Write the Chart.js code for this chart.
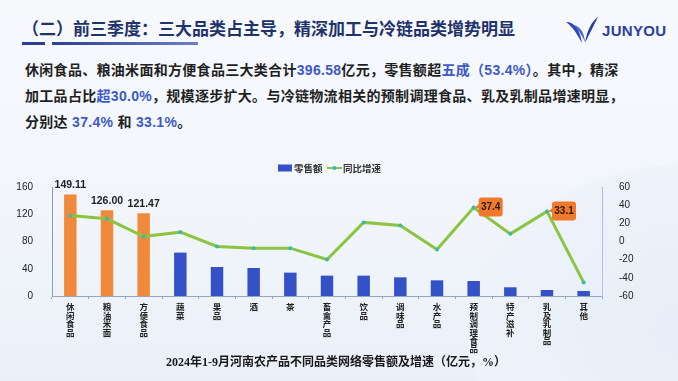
<!DOCTYPE html>
<html lang="zh">
<head>
  <meta charset="UTF-8">
  <title>河南农产品网络零售额及增速</title>
  <script src="https://cdn.jsdelivr.net/npm/chart.js@4/dist/chart.umd.min.js"></script>
  <style>
    html, body {
      margin: 0;
      padding: 0;
    }
    body {
      width: 678px;
      height: 381px;
      position: relative;
      overflow: hidden;
      font-family: "Liberation Sans", "Noto Sans CJK SC", sans-serif;
      background: radial-gradient(ellipse 420px 300px at 700px 330px, #e6edf8 0%, #eef3fa 55%, rgba(0,0,0,0) 56%),
                  linear-gradient(180deg, #f7f9fd 0%, #f1f5fb 60%, #eaf0f8 100%);
    }
    #title {
      position: absolute;
      left: 22px;
      top: 17px;
      font-size: 17px;
      line-height: 22px;
      font-weight: bold;
      color: #22326b;
      font-family: "Noto Sans CJK SC", sans-serif;
    }
    .bar1 { position: absolute; left: 22px; top: 42px; width: 23px; height: 3px; background: #2c3f93; }
    .bar2 { position: absolute; left: 52px; top: 42px; width: 146px; height: 3px;
            background: linear-gradient(90deg, #2c3f93, #6e80c9); }
    #logo { position: absolute; left: 565px; top: 16px; width: 100px; height: 32px; }
    #logo span {
      position: absolute; left: 37px; top: 6px;
      font: bold 15px "Liberation Sans", sans-serif; color: #2b3f9e; letter-spacing: 0.3px;
    }
    #para {
      position: absolute;
      left: 25px;
      top: 57px;
      width: 640px;
      font-size: 14px;
      line-height: 26px;
      font-weight: bold;
      color: #1f1f1f;
      letter-spacing: 0.3px;
    }
    #para b { color: #3d5ac4; font-weight: 600; }
    #chartBox { position: absolute; left: 0; top: 155px; width: 678px; height: 225px; }
    #caption {
      position: absolute;
      left: 0; width: 672px;
      top: 352px;
      text-align: center;
      font: bold 12px "Liberation Serif", "Noto Sans CJK SC", serif;
      color: #1a1a1a;
    }
  </style>
</head>
<body>
  <div id="title">（二）前三季度：三大品类占主导，精深加工与冷链品类增势明显</div>
  <div class="bar1"></div>
  <div class="bar2"></div>
  <div id="logo">
    <svg width="36" height="30" viewBox="0 0 36 30">
      <path d="M1 6 C10 6 15 14 17 27 C12 18 8 11 1 6 Z" fill="#2f47b0"/>
      <path d="M8 9 C15 10 19 16 20 26 C17 19 13 13 8 9 Z" fill="#4a66d0"/>
      <path d="M33 1 C26 6 22 15 20 27 C25 17 29 9 33 1 Z" fill="#2a3ea0"/>
    </svg>
    <span>JUNYOU</span>
  </div>
  <div id="para">
    休闲食品、粮油米面和方便食品三大类合计<b>396.58</b>亿元，零售额超<b>五成（53.4%）</b>。其中，精深<br>
    加工品占比<b>超30.0%</b>，规模逐步扩大。与冷链物流相关的预制调理食品、乳及乳制品增速明显，<br>
    分别达 <b>37.4%</b> 和 <b>33.1%</b>。
  </div>
  <div id="chartBox"><canvas id="myChart" width="678" height="225"></canvas></div>
  <div id="caption">2024年1-9月河南农产品不同品类网络零售额及增速（亿元，%）</div>

  <script>
    // data
    const categories = ['休闲食品', '粮油米面', '方便食品', '蔬菜', '果品', '酒', '茶', '畜禽产品',
                        '饮品', '调味品', '水产品', '预制调理食品', '特产滋补', '乳及乳制品', '其他'];
    const sales = [149.11, 126.00, 121.47, 63.7, 42.6, 41.1, 34.3, 29.9, 29.9, 27.4, 23.0, 22.0, 12.8, 8.8, 7.3];
    const growth = [28.6, 25.0, 5.5, 10.3, -5.5, -7.3, -7.3, -19.8, 21.0, 17.6, -8.8, 37.4, 8.4, 33.1, -45.0];
    const salesTicks = [0, 40, 80, 120, 160];
    const growthTicks = [-60, -40, -20, 0, 20, 40, 60];
    const topCategories = ['休闲食品', '粮油米面', '方便食品'];
    const calloutCategories = ['预制调理食品', '乳及乳制品'];

    const ORANGE = '#f08a3a';
    const BLUE = '#3551c8';
    const GREEN = '#8cc43f';

    // vertical labels: one character per line
    const labels = categories.map(c => c.split(''));

    function roundRect(ctx, x, y, w, h, r) {
      ctx.beginPath();
      ctx.moveTo(x + r, y);
      ctx.lineTo(x + w - r, y);
      ctx.quadraticCurveTo(x + w, y, x + w, y + r);
      ctx.lineTo(x + w, y + h - r);
      ctx.quadraticCurveTo(x + w, y + h, x + w - r, y + h);
      ctx.lineTo(x + r, y + h);
      ctx.quadraticCurveTo(x, y + h, x, y + h - r);
      ctx.lineTo(x, y + r);
      ctx.quadraticCurveTo(x, y, x + r, y);
      ctx.closePath();
    }

    const labelPlugin = {
      id: 'labels',
      afterDatasetsDraw(chart) {
        const ctx = chart.ctx;
        ctx.save();
        // values above the three largest bars
        const barMeta = chart.getDatasetMeta(1);
        ctx.font = 'bold 10.5px "Liberation Sans", sans-serif';
        ctx.fillStyle = '#222';
        ctx.textAlign = 'center';
        ctx.textBaseline = 'middle';
        categories.forEach((c, i) => {
          if (topCategories.includes(c)) {
            const el = barMeta.data[i];
            ctx.fillText(sales[i].toFixed(2), el.x, el.y - 9);
          }
        });
        // orange callouts on the growth line
        const lineMeta = chart.getDatasetMeta(0);
        categories.forEach((c, i) => {
          if (!calloutCategories.includes(c)) return;
          const p = lineMeta.data[i];
          const bx = p.x + 5, bw = 24, bh = 19, by = p.y - 10;
          ctx.fillStyle = '#f07a2a';
          roundRect(ctx, bx, by, bw, bh, 3);
          ctx.fill();
          ctx.beginPath();
          ctx.moveTo(bx + 1, by + 6);
          ctx.lineTo(p.x + 1, p.y);
          ctx.lineTo(bx + 1, by + 11);
          ctx.fill();
          ctx.fillStyle = '#2a1a10';
          ctx.font = 'bold 10px "Liberation Sans", sans-serif';
          ctx.fillText(growth[i].toFixed(1), bx + bw / 2, by + bh / 2 + 0.5);
        });
        ctx.restore();
      },
      afterDraw(chart) {
        // legend
        const ctx = chart.ctx;
        const y = 13;
        ctx.save();
        ctx.font = 'bold 9.5px "Noto Sans CJK SC", sans-serif';
        ctx.textBaseline = 'middle';
        ctx.textAlign = 'left';
        ctx.fillStyle = BLUE;
        ctx.fillRect(278, y - 3.5, 14, 7);
        ctx.fillStyle = '#333';
        ctx.fillText('零售额', 294, y);
        ctx.strokeStyle = GREEN;
        ctx.lineWidth = 2;
        ctx.beginPath();
        ctx.moveTo(327, y);
        ctx.lineTo(342, y);
        ctx.stroke();
        ctx.fillStyle = '#3cb8ae';
        ctx.beginPath();
        ctx.arc(334.5, y, 2, 0, Math.PI * 2);
        ctx.fill();
        ctx.fillStyle = '#333';
        ctx.fillText('同比增速', 343, y);
        ctx.restore();
      }
    };

    const ctx = document.getElementById('myChart').getContext('2d');
    new Chart(ctx, {
      data: {
        labels: labels,
        datasets: [
          {
            type: 'line',
            label: '同比增速',
            data: growth,
            yAxisID: 'y1',
            borderColor: GREEN,
            borderWidth: 3,
            pointRadius: 2,
            pointBorderWidth: 0,
            pointBackgroundColor: '#3cb8ae',
            pointBorderColor: '#3cb8ae',
            tension: 0,
            order: 0
          },
          {
            type: 'bar',
            label: '零售额',
            data: sales,
            yAxisID: 'y',
            backgroundColor: categories.map(c => topCategories.includes(c) ? ORANGE : BLUE),
            barPercentage: 0.34,
            categoryPercentage: 1,
            order: 1
          }
        ]
      },
      options: {
        responsive: false,
        animation: false,
        devicePixelRatio: 1,
        layout: { padding: { top: 32, left: 0, right: 0, bottom: 0 } },
        plugins: {
          legend: { display: false },
          tooltip: { enabled: false }
        },
        scales: {
          x: {
            grid: { display: true, drawOnChartArea: false, tickLength: 3, color: '#9aa5b8', offset: true },
            border: { display: true, color: '#9aa5b8' },
            ticks: {
              autoSkip: false,
              maxRotation: 0,
              minRotation: 0,
              padding: 4,
              color: '#222',
              font: { size: 8.5, weight: 'bold', family: '"Noto Sans CJK SC", sans-serif', lineHeight: '8.4px' }
            },
            afterFit(scale) { scale.height = 84; }
          },
          y: {
            position: 'left',
            min: 0,
            max: 160,
            grid: { display: false },
            border: { display: true, color: '#8d9bb3' },
            afterBuildTicks(scale) { scale.ticks = salesTicks.map(v => ({ value: v })); },
            ticks: {
              padding: 11,
              color: '#222',
              font: { size: 10, family: '"Liberation Sans", sans-serif' }
            },
            afterFit(scale) { scale.width = 52; }
          },
          y1: {
            position: 'right',
            min: -60,
            max: 60,
            grid: { display: false },
            border: { display: true, color: '#a9c1e8' },
            afterBuildTicks(scale) { scale.ticks = growthTicks.map(v => ({ value: v })); },
            ticks: {
              padding: 9,
              color: '#222',
              font: { size: 10, family: '"Liberation Sans", sans-serif' }
            },
            afterFit(scale) { scale.width = 76; }
          }
        }
      },
      plugins: [labelPlugin]
    });
  </script>
</body>
</html>
